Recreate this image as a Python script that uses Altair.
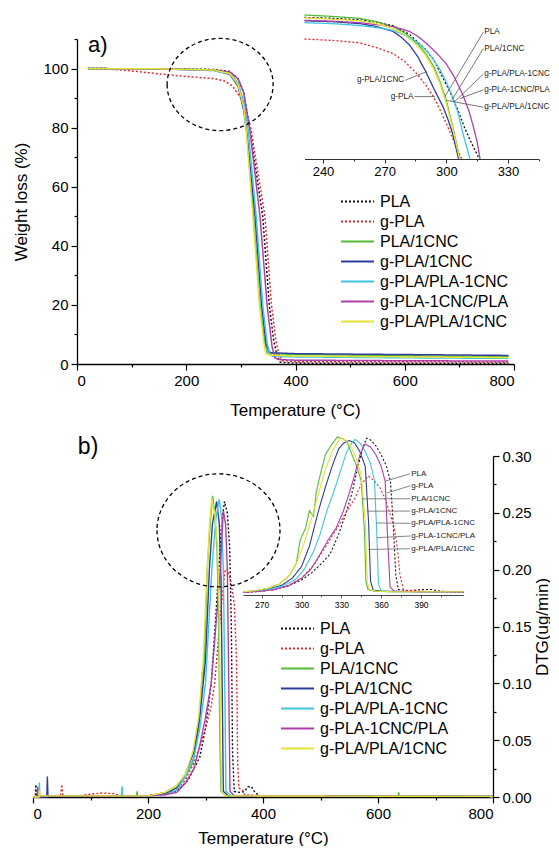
import altair as alt
import pandas as pd

SERIES = ["PLA", "g-PLA", "PLA/1CNC", "g-PLA/1CNC", "g-PLA/PLA-1CNC", "g-PLA-1CNC/PLA", "g-PLA/PLA/1CNC"]
COLORS = ["#111111", "#e8262a", "#55b93a", "#2e3d9c", "#3fc6df", "#b03fae", "#e3e336"]
DASHES = [[2, 2], [2, 2], [1, 0], [1, 0], [1, 0], [1, 0], [1, 0]]

# ---------------- panel a: TGA (weight %) ----------------
A_PLA_T = [20, 150, 250, 280, 295, 305, 316, 340, 352, 360, 366, 372, 400, 600, 790]
A_PLA_W = [100, 99.9, 99.7, 99.0, 96.5, 92.0, 80.0, 50.0, 20.0, 8.0, 3.0, 0.6, 0.3, 0.25, 0.25]
A_GPLA_T = [20, 60, 100, 150, 200, 250, 270, 285, 300, 310, 318, 344, 356, 364, 370, 376, 400, 600, 790]
A_GPLA_W = [100, 99.8, 99.2, 98.2, 97.3, 96.6, 95.8, 94.0, 90.0, 85.0, 80.0, 50.0, 20.0, 8.0, 3.0, 1.2, 0.8, 0.75, 0.7]
A_P1_T = [20, 150, 250, 280, 295, 305, 310, 323, 335, 343, 347, 352, 400, 600, 790]
A_P1_W = [100, 99.9, 99.6, 98.5, 95.0, 88.0, 80.0, 50.0, 20.0, 8.0, 4.2, 3.6, 3.2, 2.8, 2.5]
A_G1_T = [20, 150, 250, 280, 295, 305, 311, 326, 338, 346, 351, 356, 400, 600, 790]
A_G1_W = [100, 99.9, 99.4, 98.0, 94.0, 86.0, 78.0, 50.0, 20.0, 7.0, 4.2, 3.8, 3.5, 3.2, 2.9]
A_GP1_T = [20, 150, 250, 280, 295, 305, 313, 328, 340, 348, 353, 358, 400, 600, 790]
A_GP1_W = [100, 99.9, 99.3, 98.2, 95.0, 89.0, 80.0, 50.0, 20.0, 7.0, 3.5, 2.6, 2.4, 2.1, 1.9]
A_G1P_T = [20, 150, 250, 280, 295, 305, 316, 335, 348, 357, 362, 368, 400, 600, 790]
A_G1P_W = [100, 99.9, 99.5, 98.8, 96.5, 92.0, 80.0, 50.0, 20.0, 6.0, 2.2, 1.5, 1.3, 1.1, 1.0]
A_GPP_T = [20, 150, 250, 280, 295, 305, 310, 322, 334, 342, 346, 352, 400, 600, 790]
A_GPP_W = [100, 99.9, 99.5, 98.3, 94.5, 87.0, 79.0, 50.0, 20.0, 7.0, 3.5, 3.0, 2.7, 2.4, 2.2]

# inset of panel a
IA_PLA_T = [231, 245, 258, 266, 274, 282, 290, 294, 298, 302, 306, 309, 312, 316]
IA_PLA_W = [99.75, 99.65, 99.5, 99.25, 98.9, 98.0, 96.4, 95.3, 93.6, 91.9, 89.9, 88.2, 86.8, 85.0]
IA_GPLA_T = [231, 245, 258, 266, 274, 280, 285.6, 290, 293.7, 297, 300, 303, 305, 307.6]
IA_GPLA_W = [97.5, 97.35, 97.1, 96.6, 96.0, 95.1, 93.9, 92.7, 91.5, 90.1, 88.7, 87.2, 86.2, 85.0]
IA_P1_T = [231, 245, 258, 266, 274, 280, 286, 290, 294, 297, 300, 303, 306.6]
IA_P1_W = [100, 99.85, 99.65, 99.3, 98.8, 98.1, 97.0, 96.0, 94.6, 93.0, 91.1, 88.5, 85.0]
IA_G1_T = [231, 245, 258, 266, 274, 278, 282, 286, 290, 294, 298.5, 301, 303, 306]
IA_G1_W = [99.4, 99.3, 99.1, 98.8, 98.3, 97.7, 96.9, 95.7, 94.1, 92.3, 90.4, 89.0, 87.7, 85.0]
IA_GP1_T = [231, 245, 258, 266, 274, 282, 287, 292, 297, 300, 303, 306, 308, 310, 311.5]
IA_GP1_W = [99.2, 99.1, 98.9, 98.7, 98.4, 97.7, 97.0, 95.9, 94.3, 93.0, 91.5, 89.6, 87.7, 86.2, 85.0]
IA_G1P_T = [231, 245, 258, 266, 274, 282, 286, 290, 295, 300, 304, 308, 311, 313, 315, 316.4]
IA_G1P_W = [99.45, 99.35, 99.2, 99.0, 98.8, 98.3, 97.8, 97.1, 96.1, 94.9, 93.5, 91.7, 90.0, 88.5, 86.8, 85.0]
IA_GPP_T = [231, 245, 258, 266, 274, 280, 286, 290, 294, 297, 300, 303, 306.5]
IA_GPP_W = [99.7, 99.55, 99.4, 99.1, 98.6, 97.9, 96.8, 95.8, 94.3, 92.8, 90.8, 88.3, 85.0]

IA_LAB_R = ["PLA", "PLA/1CNC", "g-PLA/PLA-1CNC", "g-PLA-1CNC/PLA", "g-PLA/PLA/1CNC"]
IA_LAB_R_T = [318.0, 318.0, 318.0, 318.0, 318.0]
IA_LAB_R_W = [98.2, 96.5, 93.85, 92.2, 90.4]
IA_LEAD_R_T2 = [299.3, 302.6, 304.2, 306.6, 300.2]
IA_LEAD_R_W2 = [91.5, 91.1, 91.0, 91.3, 91.1]
IA_LAB_L = ["g-PLA/1CNC", "g-PLA"]
IA_LAB_L_T = [280.0, 284.5]
IA_LAB_L_W = [93.2, 91.5]
IA_LEAD_L_T2 = [290.4, 294.5]
IA_LEAD_L_W2 = [94.1, 91.5]

# ---------------- panel b: DTG ----------------
B_PLA_T = [0, 4, 5, 6, 20, 100, 200, 230, 250, 270, 290, 300, 310, 318, 323, 328, 333, 338, 342, 345, 347, 350, 360, 368, 374, 380, 386, 395, 420, 600, 800]
B_PLA_V = [0.0, 0.0, 0.011, 0.001, 0.001, 0.001, 0.001, 0.003, 0.005, 0.015, 0.035, 0.06, 0.10, 0.16, 0.20, 0.24, 0.26, 0.25, 0.22, 0.15, 0.04, 0.005, 0.004, 0.005, 0.009, 0.009, 0.004, 0.001, 0.0008, 0.0005, 0.0005]
B_GPLA_T = [0, 48, 50, 52, 80, 100, 120, 140, 150, 160, 200, 230, 250, 265, 280, 290, 300, 310, 316, 326, 334, 338, 344, 350, 354, 356, 358, 364, 368, 400, 800]
B_GPLA_V = [0.0, 0.001, 0.011, 0.001, 0.001, 0.0025, 0.0035, 0.003, 0.0015, 0.001, 0.001, 0.002, 0.006, 0.015, 0.03, 0.045, 0.06, 0.08, 0.10, 0.16, 0.20, 0.20, 0.19, 0.17, 0.12, 0.03, 0.008, 0.006, 0.002, 0.001, 0.0005]
B_P1_T = [0, 9, 10, 11, 100, 180, 181, 182, 200, 230, 250, 265, 278, 288, 292, 294, 296, 300, 303, 308, 312.5, 316, 320, 323, 325, 327, 335, 500, 635, 636, 637, 800]
B_P1_V = [0.0, 0.0, 0.006, 0.001, 0.001, 0.001, 0.005, 0.001, 0.001, 0.004, 0.01, 0.018, 0.03, 0.06, 0.085, 0.11, 0.1, 0.15, 0.2, 0.24, 0.265, 0.25, 0.22, 0.15, 0.05, 0.005, 0.001, 0.0008, 0.0008, 0.004, 0.0008, 0.0005]
B_G1_T = [0, 24, 25, 26, 100, 200, 230, 250, 265, 280, 290, 300, 306.7, 312, 319.4, 324, 327, 329, 331, 340, 800]
B_G1_V = [0.0, 0.0, 0.018, 0.001, 0.001, 0.001, 0.003, 0.008, 0.02, 0.04, 0.07, 0.12, 0.2, 0.24, 0.26, 0.24, 0.19, 0.1, 0.005, 0.001, 0.0005]
B_GP1_T = [0, 10, 11, 12, 100, 154, 155, 156, 200, 230, 250, 265, 280, 290, 300, 311, 318, 324, 328, 331, 333, 335.6, 345, 800]
B_GP1_V = [0.0, 0.0, 0.0127, 0.001, 0.001, 0.001, 0.0095, 0.001, 0.001, 0.002, 0.006, 0.018, 0.035, 0.06, 0.1, 0.2, 0.245, 0.262, 0.245, 0.2, 0.12, 0.005, 0.001, 0.0005]
B_G1P_T = [0, 7, 8, 9, 100, 200, 230, 250, 265, 280, 290, 300, 310, 318, 325.8, 331, 335, 338, 340, 342.6, 350, 800]
B_G1P_V = [0.0, 0.0, 0.009, 0.001, 0.001, 0.001, 0.002, 0.004, 0.012, 0.025, 0.045, 0.07, 0.1, 0.15, 0.2, 0.252, 0.24, 0.2, 0.12, 0.005, 0.001, 0.0005]
B_GPP_T = [0, 10, 11, 12, 100, 200, 230, 250, 265, 278, 288, 296, 302, 307, 311, 316, 321, 324, 326, 328, 335, 800]
B_GPP_V = [0.0, 0.0, 0.006, 0.001, 0.001, 0.001, 0.004, 0.01, 0.02, 0.04, 0.07, 0.12, 0.19, 0.24, 0.263, 0.25, 0.22, 0.16, 0.06, 0.005, 0.001, 0.0005]

# inset of panel b
IB_PLA_T = [256, 270, 280, 290, 300, 308, 315, 321.5, 328, 334, 338, 342, 346, 349, 352, 356, 360, 364, 367, 369, 371, 373, 380, 387, 392, 398, 402, 410, 422]
IB_PLA_V = [0.001, 0.003, 0.006, 0.012, 0.022, 0.035, 0.05, 0.066, 0.1, 0.139, 0.17, 0.21, 0.245, 0.263, 0.26, 0.25, 0.235, 0.215, 0.19, 0.12, 0.03, 0.006, 0.004, 0.005, 0.006, 0.006, 0.004, 0.002, 0.001]
IB_GPLA_T = [256, 270, 280, 290, 300, 310, 320, 328, 334, 340, 345, 350.3, 355, 359, 363, 366.7, 370, 372.5, 374.2, 376.7, 380, 385, 392, 400, 422]
IB_GPLA_V = [0.001, 0.003, 0.006, 0.013, 0.025, 0.05, 0.085, 0.115, 0.139, 0.16, 0.185, 0.199, 0.19, 0.179, 0.16, 0.134, 0.11, 0.07, 0.03, 0.006, 0.004, 0.004, 0.003, 0.002, 0.001]
IB_P1_T = [256, 265, 275, 283, 291, 296, 299, 303, 306, 309, 311, 314, 318, 322, 327, 331, 334, 338, 341.6, 345, 347.5, 348.5, 350, 355, 370, 400, 422]
IB_P1_V = [0.002, 0.004, 0.008, 0.015, 0.03, 0.05, 0.09, 0.11, 0.14, 0.13, 0.17, 0.2, 0.235, 0.25, 0.265, 0.262, 0.258, 0.235, 0.215, 0.19, 0.1, 0.02, 0.006, 0.003, 0.002, 0.002, 0.002]
IB_G1_T = [256, 265, 275, 285, 293, 300, 306, 312.7, 318, 323, 328, 332, 336, 340, 344, 348, 350.5, 352, 354, 360, 400, 422]
IB_G1_V = [0.002, 0.003, 0.007, 0.013, 0.025, 0.045, 0.08, 0.139, 0.18, 0.215, 0.245, 0.255, 0.259, 0.255, 0.24, 0.215, 0.12, 0.02, 0.005, 0.003, 0.002, 0.002]
IB_GP1_T = [256, 265, 275, 285, 295, 302, 309, 314, 319, 324, 329, 334, 338, 340.3, 344, 348, 352, 355, 356.7, 358, 360, 370, 422]
IB_GP1_V = [0.002, 0.003, 0.006, 0.011, 0.022, 0.04, 0.07, 0.1, 0.139, 0.17, 0.205, 0.24, 0.255, 0.261, 0.255, 0.24, 0.22, 0.19, 0.1, 0.015, 0.004, 0.002, 0.002]
IB_G1P_T = [256, 270, 280, 290, 300, 307, 314, 320, 326, 331.5, 336, 340, 344, 347.8, 352, 356, 360, 363, 364.7, 366.7, 370, 400, 422]
IB_G1P_V = [0.001, 0.003, 0.006, 0.012, 0.025, 0.04, 0.066, 0.09, 0.11, 0.139, 0.17, 0.2, 0.235, 0.253, 0.248, 0.235, 0.215, 0.19, 0.1, 0.01, 0.003, 0.002, 0.002]
IB_GPP_T = [256, 265, 275, 283, 291, 297, 302, 308, 313, 318, 323, 329, 333, 337, 341, 345, 348, 349.5, 351, 356, 370, 400, 422]
IB_GPP_V = [0.002, 0.004, 0.008, 0.015, 0.03, 0.055, 0.085, 0.13, 0.17, 0.21, 0.24, 0.264, 0.26, 0.25, 0.23, 0.2, 0.12, 0.02, 0.006, 0.003, 0.002, 0.002, 0.002]

IB_LAB = SERIES
IB_LAB_T = [381.8] * 7
IB_LAB_V = [0.2025, 0.182, 0.1601, 0.1392, 0.1183, 0.0968, 0.0752]
IB_LEAD_T2 = [362.9, 364.2, 345.4, 349.1, 356.1, 356.7, 350.3]
IB_LEAD_V2 = [0.190, 0.170, 0.160, 0.139, 0.119, 0.094, 0.074]

# annotation anchors (data coordinates)
ELL_A = (262.0, 94.6)
ELL_B = (322.6, 0.2346)
TAG_A = (20.0, 108.0)
TAG_B = (78.0, 0.308)

FONT = "Liberation Sans"


def long_frame(blocks, xname, yname):
    rows = []
    for name, xs, ys in blocks:
        for xv, yv in zip(xs, ys):
            rows.append({"series": name, xname: xv, yname: yv})
    return pd.DataFrame(rows)


df_a = long_frame([
    ("PLA", A_PLA_T, A_PLA_W), ("g-PLA", A_GPLA_T, A_GPLA_W), ("PLA/1CNC", A_P1_T, A_P1_W),
    ("g-PLA/1CNC", A_G1_T, A_G1_W), ("g-PLA/PLA-1CNC", A_GP1_T, A_GP1_W),
    ("g-PLA-1CNC/PLA", A_G1P_T, A_G1P_W), ("g-PLA/PLA/1CNC", A_GPP_T, A_GPP_W)], "t", "w")
df_ia = long_frame([
    ("PLA", IA_PLA_T, IA_PLA_W), ("g-PLA", IA_GPLA_T, IA_GPLA_W), ("PLA/1CNC", IA_P1_T, IA_P1_W),
    ("g-PLA/1CNC", IA_G1_T, IA_G1_W), ("g-PLA/PLA-1CNC", IA_GP1_T, IA_GP1_W),
    ("g-PLA-1CNC/PLA", IA_G1P_T, IA_G1P_W), ("g-PLA/PLA/1CNC", IA_GPP_T, IA_GPP_W)], "t", "w")
df_b = long_frame([
    ("PLA", B_PLA_T, B_PLA_V), ("g-PLA", B_GPLA_T, B_GPLA_V), ("PLA/1CNC", B_P1_T, B_P1_V),
    ("g-PLA/1CNC", B_G1_T, B_G1_V), ("g-PLA/PLA-1CNC", B_GP1_T, B_GP1_V),
    ("g-PLA-1CNC/PLA", B_G1P_T, B_G1P_V), ("g-PLA/PLA/1CNC", B_GPP_T, B_GPP_V)], "t", "v")
df_ib = long_frame([
    ("PLA", IB_PLA_T, IB_PLA_V), ("g-PLA", IB_GPLA_T, IB_GPLA_V), ("PLA/1CNC", IB_P1_T, IB_P1_V),
    ("g-PLA/1CNC", IB_G1_T, IB_G1_V), ("g-PLA/PLA-1CNC", IB_GP1_T, IB_GP1_V),
    ("g-PLA-1CNC/PLA", IB_G1P_T, IB_G1P_V), ("g-PLA/PLA/1CNC", IB_GPP_T, IB_GPP_V)], "t", "v")

df_ia_r = pd.DataFrame({"label": IA_LAB_R, "t": IA_LAB_R_T, "w": IA_LAB_R_W,
                        "t2": IA_LEAD_R_T2, "w2": IA_LEAD_R_W2})
df_ia_l = pd.DataFrame({"label": IA_LAB_L, "t": IA_LAB_L_T, "w": IA_LAB_L_W,
                        "t2": IA_LEAD_L_T2, "w2": IA_LEAD_L_W2})
df_ib_lab = pd.DataFrame({"label": IB_LAB, "t": IB_LAB_T, "v": IB_LAB_V,
                          "t2": IB_LEAD_T2, "v2": IB_LEAD_V2})


def tick_cond(test, big, small):
    return {"condition": {"test": test, "value": big}, "value": small}


def legend_at(x, y):
    return alt.Legend(orient="none", legendX=x, legendY=y, title=None,
                      symbolType="M-2.2,0L2.2,0", symbolSize=225, symbolStrokeWidth=1.8,
                      symbolFillColor="transparent", labelFontSize=16, labelFont=FONT,
                      labelColor="black", labelOffset=14, rowPadding=3, padding=0)


def color_dash(legend):
    return dict(
        color=alt.Color("series:N", scale=alt.Scale(domain=SERIES, range=COLORS), legend=legend),
        strokeDash=alt.StrokeDash("series:N", scale=alt.Scale(domain=SERIES, range=DASHES), legend=legend),
    )


# ---------- panel a (plot area shifted 44 px right inside its group) ----------
SHIFT = 44
xa_scale = alt.Scale(domain=[0, 800], range=[SHIFT, SHIFT + 437], nice=False, zero=False)
ya_scale = alt.Scale(domain=[0, 110], nice=False)
xa_axis = alt.Axis(values=list(range(0, 801, 100)), format="d",
                   labelExpr="datum.value % 200 === 0 ? datum.label : ''",
                   tickSize=tick_cond("datum.value % 200 === 0", 6, 3),
                   title="Temperature (°C)", titleBaseline="middle",
                   titleX=SHIFT + 218, titleY=46, labelPadding=3)
ya_axis = alt.Axis(values=list(range(0, 111, 10)), format="d", offset=-SHIFT,
                   labelExpr="datum.value % 20 === 0 ? datum.label : ''",
                   tickSize=tick_cond("datum.value % 20 === 0", 6, 3),
                   title="Weight loss (%)", titleBaseline="middle", titleX=-56, labelPadding=3)
XA = lambda: alt.X("t:Q", scale=xa_scale, axis=xa_axis)
YA = lambda: alt.Y("w:Q", scale=ya_scale, axis=ya_axis)
leg_a = legend_at(SHIFT + 272, 154)

main_a = alt.Chart(df_a).mark_line(strokeWidth=1.5).encode(x=XA(), y=YA(), **color_dash(leg_a))
ell_a = alt.Chart(pd.DataFrame({"t": [ELL_A[0]], "w": [ELL_A[1]]})).mark_point(
    shape="M-1,0A1,0.87,0,1,0,1,0A1,0.87,0,1,0,-1,0Z", size=11236, filled=False,
    stroke="black", strokeWidth=1.3, strokeDash=[4, 3], opacity=1).encode(x=XA(), y=YA())
tag_a = alt.Chart(pd.DataFrame({"t": [TAG_A[0]], "w": [TAG_A[1]], "label": ["a)"]})).mark_text(
    align="left", baseline="middle", fontSize=22, font=FONT, color="black").encode(
    x=XA(), y=YA(), text="label:N")

ia_x_scale = alt.Scale(domain=[231, 345], range=[SHIFT + 227.5, SHIFT + 461.8], nice=False, zero=False)
ia_y_scale = alt.Scale(domain=[85, 100], range=[120, -24], nice=False, zero=False)
ia_axis = alt.Axis(orient="bottom", offset=-205, values=list(range(240, 346, 15)), format="d",
                   labelExpr="datum.value % 30 === 0 ? datum.label : ''",
                   tickSize=tick_cond("datum.value % 30 === 0", 4, 2),
                   labelFontSize=13, labelPadding=2, title=None, domainColor="#333",
                   tickColor="#333", domainWidth=1, tickWidth=1)
XIA = lambda: alt.X("t:Q", scale=ia_x_scale, axis=ia_axis)
YIA = lambda: alt.Y("w:Q", scale=ia_y_scale, axis=None)

ia_lines = alt.Chart(df_ia).mark_line(strokeWidth=1.3).encode(x=XIA(), y=YIA(), **color_dash(leg_a))
ia_rule_r = alt.Chart(df_ia_r).mark_rule(color="#555", strokeWidth=0.8).encode(
    x=XIA(), y=YIA(), x2="t2:Q", y2="w2:Q")
ia_rule_l = alt.Chart(df_ia_l).mark_rule(color="#555", strokeWidth=0.8).encode(
    x=XIA(), y=YIA(), x2="t2:Q", y2="w2:Q")
ia_text_r = alt.Chart(df_ia_r).mark_text(align="left", baseline="middle", dx=1, fontSize=8.2,
                                          font=FONT, color="#222").encode(x=XIA(), y=YIA(), text="label:N")
ia_text_l = alt.Chart(df_ia_l).mark_text(align="right", baseline="middle", dx=-1, fontSize=8.2,
                                          font=FONT, color="#222").encode(x=XIA(), y=YIA(), text="label:N")

panel_a = alt.layer(
    alt.layer(main_a, ell_a, tag_a),
    alt.layer(ia_lines, ia_rule_r, ia_rule_l, ia_text_r, ia_text_l),
).resolve_scale(x="independent", y="independent").properties(width=SHIFT + 437, height=325)

# ---------- panel b ----------
xb_scale = alt.Scale(domain=[0, 800], nice=False, zero=False)
yb_scale = alt.Scale(domain=[0, 0.3], nice=False)
xb_axis = alt.Axis(values=list(range(0, 801, 100)), format="d",
                   labelExpr="datum.value % 200 === 0 ? datum.label : ''",
                   tickSize=tick_cond("datum.value % 200 === 0", 6, 3),
                   title="Temperature (°C)", titleBaseline="middle", titleX=230, titleY=41,
                   labelPadding=3)
yb_axis = alt.Axis(orient="right", values=[round(i * 0.025, 3) for i in range(13)],
                   labelExpr="abs(round(datum.value * 1000) % 50) < 1 ? format(datum.value, '.2f') : ''",
                   tickSize=tick_cond("abs(round(datum.value * 1000) % 50) < 1", 6, 3),
                   title="DTG(ug/min)", titleAngle=270, titleBaseline="middle", titleX=49,
                   labelPadding=3)
XB = lambda: alt.X("t:Q", scale=xb_scale, axis=xb_axis)
YB = lambda: alt.Y("v:Q", scale=yb_scale, axis=yb_axis)
leg_b = legend_at(256, 164)

main_b = alt.Chart(df_b).mark_line(strokeWidth=1.4).encode(x=XB(), y=YB(), **color_dash(leg_b))
ell_b = alt.Chart(pd.DataFrame({"t": [ELL_B[0]], "v": [ELL_B[1]]})).mark_point(
    shape="M-1,0A1,0.919,0,1,0,1,0A1,0.919,0,1,0,-1,0Z", size=15129, filled=False,
    stroke="black", strokeWidth=1.3, strokeDash=[4, 3], opacity=1).encode(x=XB(), y=YB())
tag_b = alt.Chart(pd.DataFrame({"t": [TAG_B[0]], "v": [TAG_B[1]], "label": ["b)"]})).mark_text(
    align="left", baseline="middle", fontSize=23, font=FONT, color="black").encode(
    x=XB(), y=YB(), text="label:N")

ib_x_scale = alt.Scale(domain=[256, 422], range=[210.1, 430.5], nice=False, zero=False)
ib_y_scale = alt.Scale(domain=[0, 0.3], range=[137, -39.6], nice=False)
ib_axis = alt.Axis(orient="bottom", offset=-202, values=list(range(270, 406, 15)), format="d",
                   labelExpr="datum.value % 30 === 0 ? datum.label : ''",
                   tickSize=tick_cond("datum.value % 30 === 0", 3, 2),
                   labelFontSize=8.5, labelPadding=2, title=None, domainColor="#444",
                   tickColor="#444", domainWidth=1, tickWidth=0.8)
XIB = lambda: alt.X("t:Q", scale=ib_x_scale, axis=ib_axis)
YIB = lambda: alt.Y("v:Q", scale=ib_y_scale, axis=None)

ib_lines = alt.Chart(df_ib).mark_line(strokeWidth=1.1).encode(x=XIB(), y=YIB(), **color_dash(leg_b))
ib_rules = alt.Chart(df_ib_lab).mark_rule(color="#666", strokeWidth=0.8).encode(
    x=XIB(), y=YIB(), x2="t2:Q", y2="v2:Q")
ib_text = alt.Chart(df_ib_lab).mark_text(align="left", baseline="middle", dx=1, fontSize=8,
                                         font=FONT, color="#222").encode(x=XIB(), y=YIB(), text="label:N")

panel_b = alt.layer(
    alt.layer(main_b, ell_b, tag_b),
    alt.layer(ib_lines, ib_rules, ib_text),
).resolve_scale(x="independent", y="independent").properties(width=460, height=341)

chart = alt.vconcat(panel_a, panel_b, spacing=16).resolve_scale(
    color="independent", strokeDash="independent"
).properties(
    padding={"left": 4, "top": 4, "right": 0, "bottom": 0}
).configure_view(stroke=None).configure_axis(
    labelFont=FONT, titleFont=FONT, labelFontSize=15, titleFontSize=17,
    titleFontWeight="normal", labelColor="black", titleColor="black",
    domainColor="black", tickColor="black", domainWidth=1.3, tickWidth=1.2, grid=False
).configure_text(font=FONT)

chart.save("out.html", embed_options={"renderer": "svg", "actions": False})
